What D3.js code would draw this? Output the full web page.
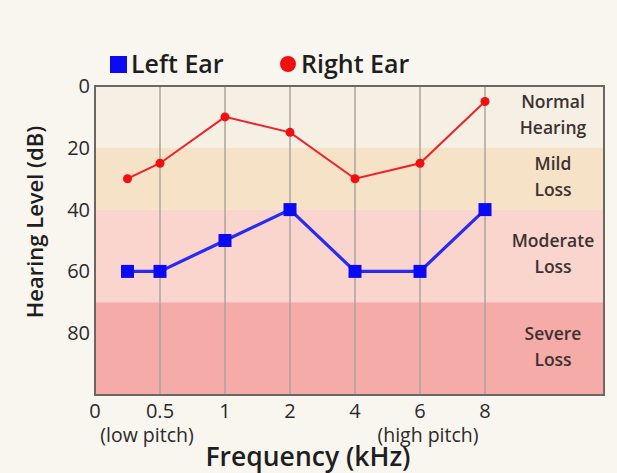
<!DOCTYPE html>
<html><head><meta charset="utf-8">
<script src="https://cdn.jsdelivr.net/npm/d3@7"></script>
<style>body{margin:0;background:#f9f6f0;}svg{display:block;}text{font-family:"Open Sans",sans-serif;}</style>
</head><body><svg id="c" width="617" height="473"></svg>
<script>
const freqLabels = ["0","0.5","1","2","4","6","8"];
const pointPos = [0.5,1,2,3,4,5,6];
const leftEar = [60,60,50,40,60,60,40];
const rightEar = [30,25,10,15,30,25,5];
const yTicks = [0,20,40,60,80];
const bands = [
  {from:0,to:20,label:["Normal","Hearing"],color:"#f6efe4"},
  {from:20,to:40,label:["Mild","Loss"],color:"#f6e3c7"},
  {from:40,to:70,label:["Moderate","Loss"],color:"#f9d5cd"},
  {from:70,to:100,label:["Severe","Loss"],color:"#f5aba8"}
];

const svg = d3.select("#c");
const L=95,R=604,T=86,B=395;
const x = d3.scaleLinear().domain([0,6]).range([95,485]);
const y = d3.scaleLinear().domain([0,100]).range([T,B]);

// bands
svg.selectAll("rect.band").data(bands).join("rect").attr("class","band")
  .attr("x",L).attr("width",R-L).attr("y",d=>y(d.from)).attr("height",d=>y(d.to)-y(d.from))
  .attr("fill",d=>d.color);

// grid
svg.selectAll("line.grid").data(d3.range(1,7)).join("line").attr("class","grid")
  .attr("x1",d=>x(d)).attr("x2",d=>x(d)).attr("y1",T).attr("y2",B)
  .attr("stroke","#aba49e").attr("stroke-width",1.5);

// frame
svg.append("rect").attr("x",L).attr("y",T).attr("width",R-L).attr("height",B-T)
  .attr("fill","none").attr("stroke","#6b6864").attr("stroke-width",2);

// band labels
bands.forEach(b=>{
  const cy=(y(b.from)+y(b.to))/2;
  const t=svg.append("text").attr("x",553).attr("text-anchor","middle")
    .attr("font-size",17.5).attr("font-weight",600).attr("fill","#3d3131");
  b.label.forEach((s,i)=>t.append("tspan").attr("x",553).attr("y",cy-9+i*26).text(s));
});

// y ticks
svg.selectAll("text.yt").data(yTicks).join("text").attr("class","yt")
  .attr("x",90).attr("y",d=>y(d)+7).attr("text-anchor","end")
  .attr("font-size",20).attr("fill","#2a2a2a").text(d=>d);

// x ticks
svg.selectAll("text.xt").data(freqLabels).join("text").attr("class","xt")
  .attr("x",(d,i)=>x(i)).attr("y",418).attr("text-anchor","middle")
  .attr("font-size",20).attr("fill","#2a2a2a").text(d=>d);

svg.append("text").attr("x",147).attr("y",442).attr("text-anchor","middle")
  .attr("font-size",19.5).attr("fill","#2a2a2a").text("(low pitch)");
svg.append("text").attr("x",428).attr("y",442).attr("text-anchor","middle")
  .attr("font-size",19.5).attr("fill","#2a2a2a").text("(high pitch)");
svg.append("text").attr("x",308).attr("y",466).attr("text-anchor","middle")
  .attr("font-size",26.5).attr("font-weight",600).attr("fill","#1e1e1e").text("Frequency (kHz)");
svg.append("text").attr("transform","translate(43,222) rotate(-90)").attr("text-anchor","middle")
  .attr("font-size",22).attr("font-weight",600).attr("fill","#1e1e1e").text("Hearing Level (dB)");

// lines
const line = d3.line().x(d=>x(d[0])).y(d=>y(d[1]));
const rd = pointPos.map((p,i)=>[p,rightEar[i]]);
const ld = pointPos.map((p,i)=>[p,leftEar[i]]);
svg.append("path").datum(rd).attr("d",line).attr("fill","none").attr("stroke","#f0202a").attr("stroke-width",2);
svg.append("path").datum(ld).attr("d",line).attr("fill","none").attr("stroke","#2a2af0").attr("stroke-width",3.2);
svg.selectAll("circle.r").data(rd).join("circle").attr("class","r")
  .attr("cx",d=>x(d[0])).attr("cy",d=>y(d[1])).attr("r",4.5).attr("fill","#f01010");
svg.selectAll("rect.l").data(ld).join("rect").attr("class","l")
  .attr("x",d=>x(d[0])-6.5).attr("y",d=>y(d[1])-6.5).attr("width",13).attr("height",13).attr("fill","#0a0af5");

// legend
svg.append("rect").attr("x",110).attr("y",56).attr("width",17).attr("height",17).attr("fill","#0a0af5");
svg.append("text").attr("x",131).attr("y",73).attr("font-size",25).attr("font-weight",600).attr("fill","#1e1e1e").text("Left Ear");
svg.append("circle").attr("cx",288).attr("cy",64).attr("r",8).attr("fill","#f01010");
svg.append("text").attr("x",301).attr("y",73).attr("font-size",25).attr("font-weight",600).attr("fill","#1e1e1e").text("Right Ear");
</script></body></html>
